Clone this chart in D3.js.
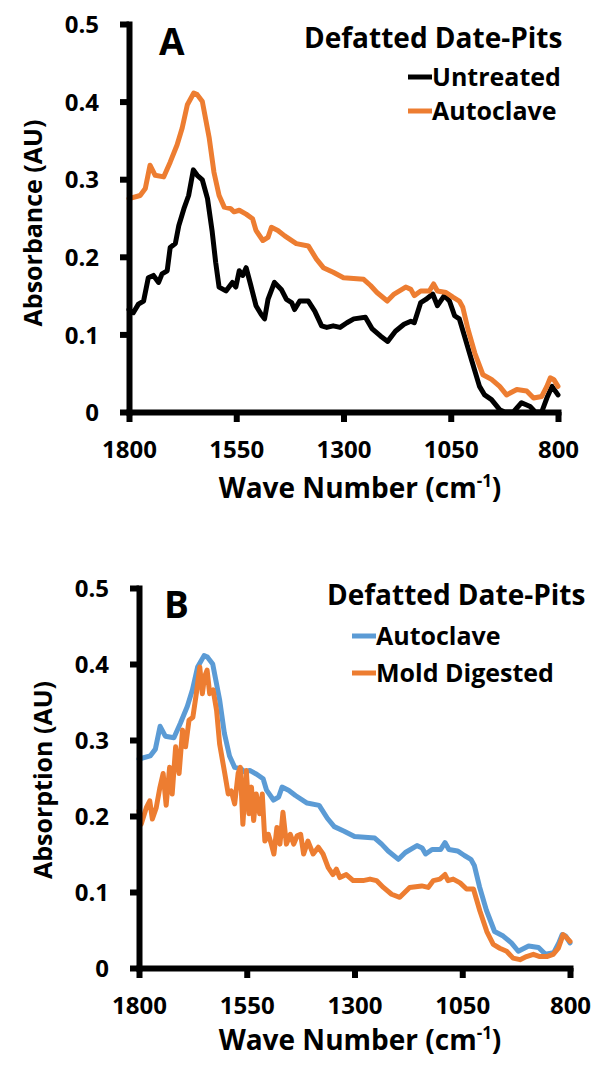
<!DOCTYPE html>
<html><head><meta charset="utf-8">
<script src="https://cdn.jsdelivr.net/npm/d3@7"></script>
<style>
body{margin:0;background:#fff}
svg{display:block}
text{font-family:"Open Sans",sans-serif;font-weight:700;fill:#000}
</style>
</head><body>
<svg id="chart" width="597" height="1075"></svg>
<script>
// Tick labels
const xTickValues = [1800, 1550, 1300, 1050, 800];
const yTickValues = [0, 0.1, 0.2, 0.3, 0.4, 0.5];

// Series: [wave number (cm-1), absorbance (AU)]
const untreated = [
 [1800,0.132],[1790,0.128],[1778,0.139],[1766,0.143],[1755,0.173],[1743,0.176],[1731,0.167],[1723,0.178],
 [1711,0.182],[1704,0.212],[1692,0.217],[1684,0.240],[1672,0.262],[1661,0.279],[1650,0.312],[1641,0.305],
 [1629,0.299],[1617,0.275],[1606,0.232],[1598,0.193],[1590,0.161],[1574,0.156],[1559,0.167],[1551,0.161],
 [1543,0.182],[1535,0.176],[1527,0.186],[1516,0.163],[1504,0.137],[1492,0.126],[1484,0.120],[1476,0.145],
 [1461,0.167],[1445,0.158],[1433,0.145],[1421,0.141],[1414,0.132],[1402,0.143],[1382,0.143],[1367,0.130],
 [1351,0.111],[1339,0.109],[1324,0.111],[1308,0.109],[1292,0.115],[1276,0.120],[1249,0.122],[1233,0.107],
 [1214,0.098],[1197,0.091],[1179,0.104],[1159,0.113],[1143,0.117],[1135,0.115],[1120,0.141],[1108,0.145],
 [1092,0.152],[1081,0.137],[1065,0.150],[1053,0.143],[1041,0.124],[1030,0.120],[1018,0.098],[1002,0.068],
 [983,0.033],[971,0.022],[955,0.016],[936,0.003],[924,0.000],[904,0.000],[885,0.012],[865,0.007],
 [853,0.000],[838,0.000],[826,0.018],[814,0.033],[800,0.022]
];
const autoclave = [
 [1800,0.275],[1774,0.279],[1762,0.288],[1751,0.318],[1739,0.305],[1719,0.303],[1704,0.322],[1688,0.344],
 [1676,0.366],[1664,0.396],[1649,0.411],[1641,0.409],[1629,0.400],[1613,0.353],[1602,0.309],[1590,0.279],
 [1578,0.264],[1563,0.262],[1555,0.258],[1543,0.260],[1527,0.255],[1512,0.249],[1504,0.234],[1488,0.221],
 [1476,0.225],[1468,0.238],[1453,0.234],[1437,0.227],[1410,0.217],[1382,0.214],[1363,0.197],[1347,0.186],
 [1324,0.180],[1300,0.173],[1253,0.171],[1237,0.163],[1222,0.154],[1198,0.143],[1182,0.152],[1155,0.161],
 [1143,0.158],[1135,0.150],[1120,0.156],[1100,0.156],[1090,0.165],[1081,0.156],[1061,0.154],[1045,0.148],
 [1030,0.143],[1022,0.135],[1010,0.107],[994,0.076],[975,0.048],[955,0.042],[936,0.033],[920,0.022],
 [896,0.029],[873,0.027],[857,0.018],[838,0.020],[826,0.033],[818,0.044],[810,0.042],[800,0.033]
];
const moldDigested = [
 [1800,0.207],[1795,0.189],[1783,0.211],[1775,0.220],[1769,0.196],[1760,0.211],[1752,0.236],[1744,0.256],
 [1737,0.214],[1729,0.264],[1723,0.229],[1715,0.291],[1707,0.256],[1699,0.313],[1692,0.291],[1684,0.326],
 [1675,0.330],[1667,0.361],[1659,0.396],[1653,0.361],[1648,0.383],[1642,0.392],[1636,0.361],[1628,0.366],
 [1620,0.339],[1613,0.295],[1601,0.256],[1593,0.229],[1586,0.233],[1578,0.216],[1570,0.256],[1565,0.264],
 [1559,0.189],[1551,0.260],[1545,0.203],[1539,0.238],[1534,0.194],[1528,0.229],[1520,0.203],[1514,0.229],
 [1508,0.167],[1500,0.176],[1493,0.163],[1487,0.150],[1480,0.185],[1473,0.163],[1466,0.205],[1458,0.163],
 [1449,0.176],[1441,0.163],[1433,0.174],[1425,0.176],[1418,0.150],[1408,0.167],[1396,0.150],[1384,0.159],
 [1373,0.150],[1361,0.132],[1350,0.123],[1342,0.130],[1334,0.119],[1319,0.123],[1303,0.115],[1280,0.115],
 [1264,0.117],[1249,0.115],[1233,0.106],[1214,0.097],[1195,0.093],[1172,0.106],[1144,0.108],[1129,0.106],
 [1117,0.115],[1102,0.117],[1090,0.123],[1083,0.115],[1071,0.117],[1055,0.112],[1040,0.104],[1024,0.104],
 [1009,0.075],[993,0.048],[978,0.031],[963,0.026],[947,0.022],[932,0.013],[916,0.011],[901,0.015],
 [885,0.018],[870,0.015],[854,0.015],[839,0.018],[827,0.026],[816,0.044],[808,0.040],[800,0.035]
];

const legendTitle = "Defatted Date-Pits";
const xTitle = "Wave Number (cm";

const panels = [
  {
    letter: "A", yTitle: "Absorbance (AU)",
    x0: 129, x1: 558, y0: 412, y1: 24,
    letterPos: [159, 55], yTitlePos: [32, 223], xTitlePos: [360, 498],
    legendTitlePos: [304, 48], legendLineX: 408, legendTextX: 432, legendY: [86, 120],
    series: [
      {name: "Untreated", data: untreated, color: "#000000"},
      {name: "Autoclave", data: autoclave, color: "#ED7D31"}
    ]
  },
  {
    letter: "B", yTitle: "Absorption (AU)",
    x0: 139, x1: 570, y0: 968, y1: 588,
    letterPos: [164, 618], yTitlePos: [42, 780], xTitlePos: [360, 1050],
    legendTitlePos: [327, 605], legendLineX: 352, legendTextX: 376, legendY: [645, 682],
    series: [
      {name: "Autoclave", data: autoclave, color: "#5B9BD5"},
      {name: "Mold Digested", data: moldDigested, color: "#ED7D31"}
    ]
  }
];

const svg = d3.select("#chart");

panels.forEach(p => {
  const x = d3.scaleLinear().domain([1800, 800]).range([p.x0, p.x1]);
  const y = d3.scaleLinear().domain([0, 0.5]).range([p.y0, p.y1]);
  const g = svg.append("g");

  const line = d3.line().x(d => x(d[0])).y(d => y(d[1]));
  p.series.forEach(s => {
    g.append("path").datum(s.data)
      .attr("d", line)
      .attr("fill", "none")
      .attr("stroke", s.color)
      .attr("stroke-width", 5)
      .attr("stroke-linejoin", "round")
      .attr("stroke-linecap", "round");
  });

  const yAxis = d3.axisLeft(y).tickValues(yTickValues)
    .tickFormat(d => d === 0 ? "0" : d3.format(".1f")(d))
    .tickSize(9).tickSizeOuter(0).tickPadding(21);
  const gy = g.append("g").attr("transform", `translate(${p.x0},0)`).call(yAxis);

  const xAxis = d3.axisBottom(x).tickValues(xTickValues)
    .tickFormat(d3.format("d"))
    .tickSize(10).tickSizeOuter(0).tickPadding(19);
  const gx = g.append("g").attr("transform", `translate(0,${p.y0})`).call(xAxis);

  [gx, gy].forEach(a => {
    a.select(".domain").attr("stroke", "#000").attr("stroke-width", 6).attr("stroke-linecap", "square");
    a.selectAll(".tick line").attr("stroke", "#000").attr("stroke-width", 6);
    a.selectAll(".tick text").attr("font-size", 24).attr("font-family", "Open Sans").attr("font-weight", 700).attr("fill", "#000");
  });
  gy.selectAll(".tick text").attr("dy", "0.36em");

  // panel letter
  g.append("text").attr("x", p.letterPos[0]).attr("y", p.letterPos[1])
    .attr("font-size", 37).text(p.letter);

  // y title
  g.append("text")
    .attr("transform", `translate(${p.yTitlePos[0]},${p.yTitlePos[1]}) rotate(-90)`)
    .attr("text-anchor", "middle").attr("dominant-baseline", "central")
    .attr("font-size", 25).text(p.yTitle);

  // x title
  const xt = g.append("text").attr("x", p.xTitlePos[0]).attr("y", p.xTitlePos[1])
    .attr("text-anchor", "middle").attr("font-size", 28);
  xt.append("tspan").text(xTitle);
  xt.append("tspan").attr("font-size", 17).attr("dy", -11).text("-1");
  xt.append("tspan").attr("dy", 11).text(")");

  // legend
  g.append("text").attr("x", p.legendTitlePos[0]).attr("y", p.legendTitlePos[1])
    .attr("font-size", 28).text(legendTitle);
  p.series.forEach((s, i) => {
    const by = p.legendY[i];
    g.append("line").attr("x1", p.legendLineX).attr("x2", p.legendTextX)
      .attr("y1", by - 9).attr("y2", by - 9)
      .attr("stroke", s.color).attr("stroke-width", 5);
    g.append("text").attr("x", p.legendTextX).attr("y", by)
      .attr("font-size", 25).text(s.name);
  });
});
</script>
</body></html>
